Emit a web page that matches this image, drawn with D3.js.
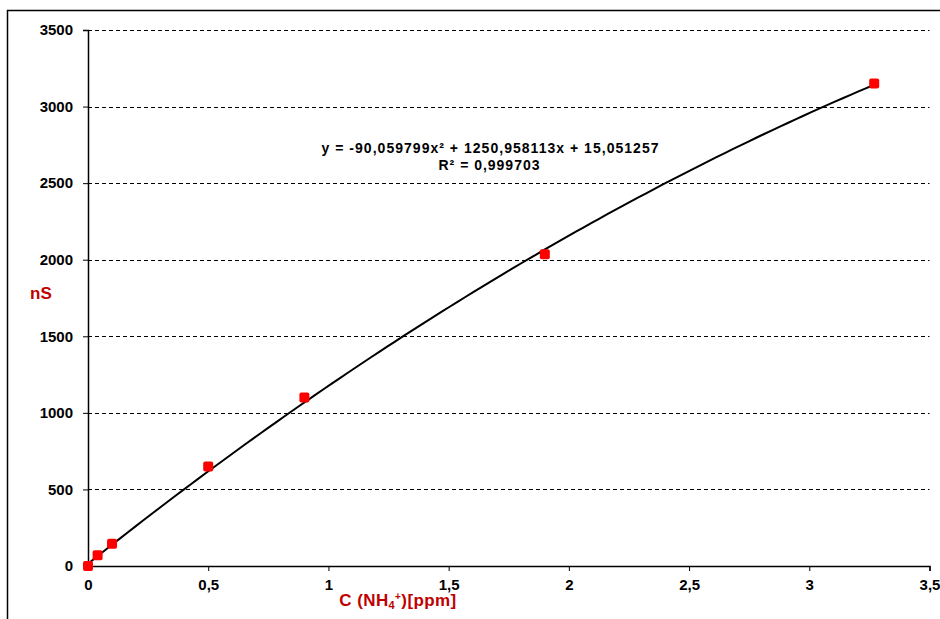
<!DOCTYPE html>
<html>
<head>
<meta charset="utf-8">
<script src="https://cdn.jsdelivr.net/npm/d3@7"></script>
<style>
    body { margin: 0; background: #fff; }
    svg text { font-family: "Liberation Sans", Arial, sans-serif; font-weight: bold; }
</style>
</head>
<body>
<div id="chart"></div>
<script>
// Measured points
const concentrations = [0, 0.04, 0.1, 0.5, 0.9, 1.9, 3.27];
const signals = [0, 70, 145, 650, 1100, 2035, 3150];

// Trendline coefficients as printed on the chart (a, b, c for ax^2 + bx + c)
const trendCoefs = [-90.059799, 1250.958113, 15.051257];
const trendLabel = ["y = -90,059799x² + 1250,958113x + 15,051257", "R² = 0,999703"];

// Axis ticks
const xTicks = [0, 0.5, 1, 1.5, 2, 2.5, 3, 3.5];
const yTicks = [0, 500, 1000, 1500, 2000, 2500, 3000, 3500];

const W = 940, H = 619;
const margin = { top: 30, right: 10, bottom: 53, left: 88 };

const svg = d3.select("#chart")
    .append("svg")
    .attr("width", W)
    .attr("height", H);

// Outer frame
svg.append("rect")
    .attr("x", 7.5)
    .attr("y", 10.5)
    .attr("width", W)
    .attr("height", H)
    .attr("fill", "none")
    .attr("stroke", "#000")
    .attr("stroke-width", 1.5);

const x = d3.scaleLinear()
    .domain([0, 3.5])
    .range([margin.left, W - margin.right - 0.5]);

const y = d3.scaleLinear()
    .domain([0, 3500])
    .range([H - margin.bottom, margin.top]);

const fmt = d => String(d).replace(".", ",");

// Grid lines
svg.append("g")
    .selectAll("line")
    .data(yTicks.filter(d => d > 0))
    .enter()
    .append("line")
    .attr("x1", x(0))
    .attr("x2", x(3.5))
    .attr("y1", d => Math.round(y(d)) + 0.5)
    .attr("y2", d => Math.round(y(d)) + 0.5)
    .attr("stroke", "#000")
    .attr("stroke-width", 1)
    .attr("stroke-dasharray", "4,3");

// Y axis
const yAxis = svg.append("g")
    .attr("transform", `translate(${x(0)},0)`)
    .call(d3.axisLeft(y).tickValues(yTicks).tickSize(5).tickPadding(10).tickFormat(fmt));

// X axis
const xAxis = svg.append("g")
    .attr("transform", `translate(0,${y(0)})`)
    .call(d3.axisBottom(x).tickValues(xTicks).tickSize(5).tickPadding(8).tickFormat(fmt));

[yAxis, xAxis].forEach(g => {
    g.select(".domain").attr("stroke", "#000").attr("stroke-width", 1.5);
    g.selectAll(".tick line").attr("stroke", "#000").attr("stroke-width", 1);
    g.selectAll(".tick text")
        .attr("fill", "#000")
        .style("font-size", "15px")
        .style("font-family", "'Liberation Sans', Arial, sans-serif")
        .style("font-weight", "bold");
});

// Trendline
const trend = v => trendCoefs[0] * v * v + trendCoefs[1] * v + trendCoefs[2];
const xMax = d3.max(concentrations);
const curveX = d3.range(0, 101).map(i => xMax * i / 100);

svg.append("path")
    .datum(curveX)
    .attr("fill", "none")
    .attr("stroke", "#000")
    .attr("stroke-width", 2)
    .attr("d", d3.line().x(d => x(d)).y(d => y(trend(d))));

// Data markers
const pts = concentrations.map((c, i) => ({ c: c, s: signals[i] }));
svg.selectAll(".pt")
    .data(pts)
    .enter()
    .append("rect")
    .attr("class", "pt")
    .attr("x", d => x(d.c) - 5)
    .attr("y", d => y(d.s) - 5)
    .attr("width", 10)
    .attr("height", 10)
    .attr("rx", 2)
    .attr("fill", "#ff0000");

// Equation label (stretched a bit to match the original's wider glyphs)
svg.append("text")
    .attr("x", 490)
    .attr("y", 153)
    .attr("text-anchor", "middle")
    .attr("textLength", 337)
    .attr("lengthAdjust", "spacing")
    .style("font-size", "14px")
    .text(trendLabel[0]);

svg.append("text")
    .attr("x", 489)
    .attr("y", 170)
    .attr("text-anchor", "middle")
    .attr("textLength", 101)
    .attr("lengthAdjust", "spacing")
    .style("font-size", "14px")
    .text(trendLabel[1]);

// Axis titles
svg.append("text")
    .attr("x", 30)
    .attr("y", 299)
    .attr("fill", "#c00000")
    .style("font-size", "17px")
    .text("nS");

const xt = svg.append("text")
    .attr("x", 398)
    .attr("y", 606)
    .attr("text-anchor", "middle")
    .attr("fill", "#c00000")
    .style("font-size", "17px")
    .style("letter-spacing", "0.4px");
xt.append("tspan").text("C (NH");
xt.append("tspan").attr("dy", 3).style("font-size", "11px").text("4");
xt.append("tspan").attr("dy", -9).style("font-size", "10px").text("+");
xt.append("tspan").attr("dy", 6).text(")[ppm]");
</script>
</body>
</html>
